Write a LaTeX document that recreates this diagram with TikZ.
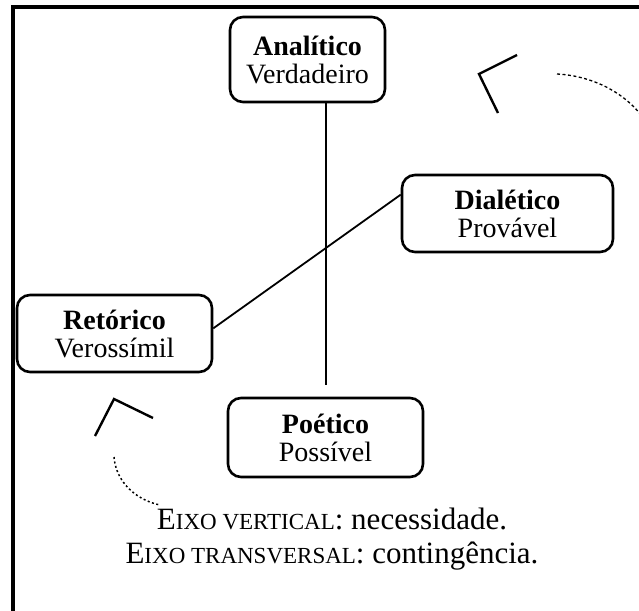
\documentclass[tikz,border=0pt]{standalone}
\usepackage{fontspec}
\setmainfont{Liberation Serif}
\newcommand{\fsc}[1]{{\fontsize{23}{23}\selectfont #1}}
\begin{document}
\begin{tikzpicture}[x=1pt,y=-1pt,
  box/.style={draw,line width=2.6pt,rounded corners=13pt,align=center,inner sep=0pt,
    font=\fontsize{28}{28}\selectfont},
  anglemark/.style={line width=2.4pt},
  axis/.style={line width=1.8pt},
  caption/.style={anchor=base,inner sep=0pt,font=\fontsize{31}{31}\selectfont}]
\useasboundingbox (0,0) rectangle (639,610);
\fill[white] (0,0) rectangle (639,610);
\draw[line width=3.2pt] (13,7) rectangle (660,640);
\node[box,minimum width=155pt,minimum height=85pt] (A) at (307.5,59.5) {\textbf{Analítico}\\Verdadeiro};
\node[box,minimum width=211pt,minimum height=77pt] (D) at (507.5,213.5) {\textbf{Dialético}\\Provável};
\node[box,minimum width=195pt,minimum height=77pt] (R) at (114.5,333.5) {\textbf{Retórico}\\Verossímil};
\node[box,minimum width=195pt,minimum height=79pt] (P) at (325.5,437.5) {\textbf{Poético}\\Possível};
\coordinate (vend) at (326,385);
\draw[axis] (A.south -| vend) -- (vend);
\draw[axis] (R.3.2) -- (D.170.1);
% angle marks
\coordinate (m1) at (517,55); \coordinate (m2) at (479,74); \coordinate (m3) at (498,113);
\draw[anglemark] (m1) -- (m2) -- (m3);
\coordinate (a1) at (557,74); \coordinate (a2) at (648,125);
\draw[line width=1.3pt,dash pattern=on 3pt off 2.5pt] (a1) .. controls (595,76) and (630,95) .. (a2);
\coordinate (n1) at (95,436); \coordinate (n2) at (114,399); \coordinate (n3) at (153,418);
\draw[anglemark] (n1) -- (n2) -- (n3);
\coordinate (b1) at (114,457); \coordinate (b2) at (160,505);
\draw[line width=1.5pt,dash pattern=on 2pt off 2.5pt] (b1) .. controls (116,482) and (136,500) .. (b2);
\node[caption] (T1) at (332,529) {E\fsc{IXO VERTICAL}: necessidade.};
\node[caption] (T2) at (332,563) {E\fsc{IXO TRANSVERSAL}: contingência.};
\end{tikzpicture}
\end{document}
